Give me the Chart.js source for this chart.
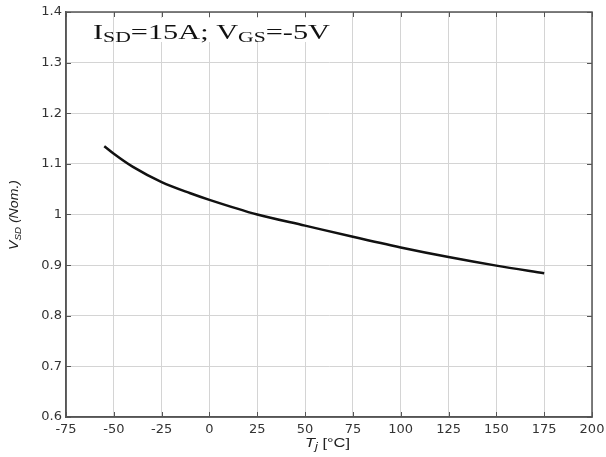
<!DOCTYPE html>
<html>
<head>
<meta charset="utf-8">
<script src="https://cdn.jsdelivr.net/npm/chart.js@4"></script>
<style>
  html, body { margin: 0; padding: 0; background: #fff; }
  #wrap { width: 606px; height: 457px; }
</style>
</head>
<body>
<div id="wrap"><canvas id="grafico"></canvas></div>
<script>
// data
const temperaturas = [-55, -50, -40, -25, -10, 0, 25, 50, 75, 100, 125, 150, 175];
const vsdNorm = [1.135, 1.12, 1.094, 1.064, 1.042, 1.029, 1.0, 0.978, 0.956, 0.935, 0.916, 0.899, 0.884];
const xTicks = [-75, -50, -25, 0, 25, 50, 75, 100, 125, 150, 175, 200];
const yTicks = [0.6, 0.7, 0.8, 0.9, 1, 1.1, 1.2, 1.3, 1.4];

const corBorda = '#555555';

// draws pieces of text (with sub-scripts) squeezed/stretched to a given width
function textoEsticado(ctx, partes, x, y, largura) {
    let total = 0;
    for (let p of partes) { ctx.font = p.font; total += ctx.measureText(p.t).width; }
    ctx.save();
    ctx.translate(x, y);
    ctx.scale(largura / total, 1);
    let cx = 0;
    for (let p of partes) {
        ctx.font = p.font;
        ctx.fillText(p.t, cx, p.dy || 0);
        cx += ctx.measureText(p.t).width;
    }
    ctx.restore();
}

const extras = {
    id: 'extras',
    beforeDatasetsDraw(chart) {
        const ctx = chart.ctx;
        const a = chart.chartArea;
        const xs = chart.scales.x, ys = chart.scales.y;

        // top / right borders and inward ticks (matlab style)
        ctx.save();
        ctx.strokeStyle = corBorda;
        ctx.lineWidth = 1.5;
        ctx.strokeRect(a.left, a.top, a.right - a.left, a.bottom - a.top);
        ctx.lineWidth = 1;
        ctx.beginPath();
        for (let v of xTicks) {
            let px = Math.round(xs.getPixelForValue(v)) + 0.5;
            ctx.moveTo(px, a.bottom); ctx.lineTo(px, a.bottom - 5);
            ctx.moveTo(px, a.top); ctx.lineTo(px, a.top + 5);
        }
        for (let v of yTicks) {
            let py = Math.round(ys.getPixelForValue(v)) + 0.5;
            ctx.moveTo(a.left, py); ctx.lineTo(a.left + 5, py);
            ctx.moveTo(a.right, py); ctx.lineTo(a.right - 5, py);
        }
        ctx.stroke();

        // annotation
        ctx.fillStyle = '#ffffff';
        ctx.fillRect(117, 18, 218, 24);
        ctx.fillStyle = '#111111';
        ctx.textBaseline = 'alphabetic';
        const grande = '21px "Liberation Serif"';
        const peq = '15px "Liberation Serif"';
        textoEsticado(ctx, [
            { t: 'I', font: grande },
            { t: 'SD', font: peq, dy: 3 },
            { t: '=15A; V', font: grande },
            { t: 'GS', font: peq, dy: 3 },
            { t: '=-5V', font: grande }
        ], 93, 39, 237);

        // axis titles
        ctx.fillStyle = '#222222';
        textoEsticado(ctx, [
            { t: 'T', font: 'italic 13px "Liberation Sans"' },
            { t: 'j', font: 'italic 10px "Liberation Sans"', dy: 3 },
            { t: ' [°C]', font: '13px "Liberation Sans"' }
        ], 305, 447, 45);

        ctx.save();
        ctx.translate(17.5, 250);
        ctx.rotate(-Math.PI / 2);
        textoEsticado(ctx, [
            { t: 'V', font: 'italic 13px "Liberation Sans"' },
            { t: 'SD', font: 'italic 9px "Liberation Sans"', dy: 3 },
            { t: ' (Nom.)', font: 'italic 13px "Liberation Sans"' }
        ], 0, 0, 70);
        ctx.restore();
        ctx.restore();
    }
};

const config = {
    type: 'line',
    data: {
        datasets: [{
            data: temperaturas.map((t, i) => ({ x: t, y: vsdNorm[i] })),
            borderColor: '#111111',
            borderWidth: 2.5,
            pointRadius: 0,
            cubicInterpolationMode: 'monotone',
            fill: false
        }]
    },
    options: {
        responsive: true,
        maintainAspectRatio: false,
        animation: false,
        layout: { padding: { top: 12, right: 14, left: 0, bottom: 0 } },
        plugins: {
            legend: { display: false },
            tooltip: { enabled: false }
        },
        scales: {
            x: {
                type: 'linear',
                min: -75,
                max: 200,
                afterBuildTicks: (s) => { s.ticks = xTicks.map(v => ({ value: v })); },
                afterFit: (s) => { s.height = 40; s.paddingLeft = 0; s.paddingRight = 0; },
                grid: { color: '#d4d4d4', lineWidth: 1, drawTicks: false },
                border: { color: corBorda, width: 1.5 },
                ticks: {
                    padding: 5,
                    color: '#333333',
                    font: { family: 'DejaVu Sans', size: 13 },
                    maxRotation: 0
                }
            },
            y: {
                min: 0.6,
                max: 1.4,
                afterBuildTicks: (s) => { s.ticks = yTicks.map(v => ({ value: v })); },
                afterFit: (s) => { s.width = 66; s.paddingTop = 0; s.paddingBottom = 0; },
                grid: { color: '#d4d4d4', lineWidth: 1, drawTicks: false },
                border: { color: corBorda, width: 1.5 },
                ticks: {
                    padding: 4,
                    color: '#333333',
                    font: { family: 'DejaVu Sans', size: 13 },
                    callback: (v) => String(Math.round(v * 10) / 10)
                }
            }
        }
    },
    plugins: [extras]
};

document.addEventListener("DOMContentLoaded", () => {
    new Chart(document.getElementById("grafico"), config);
});
</script>
</body>
</html>
